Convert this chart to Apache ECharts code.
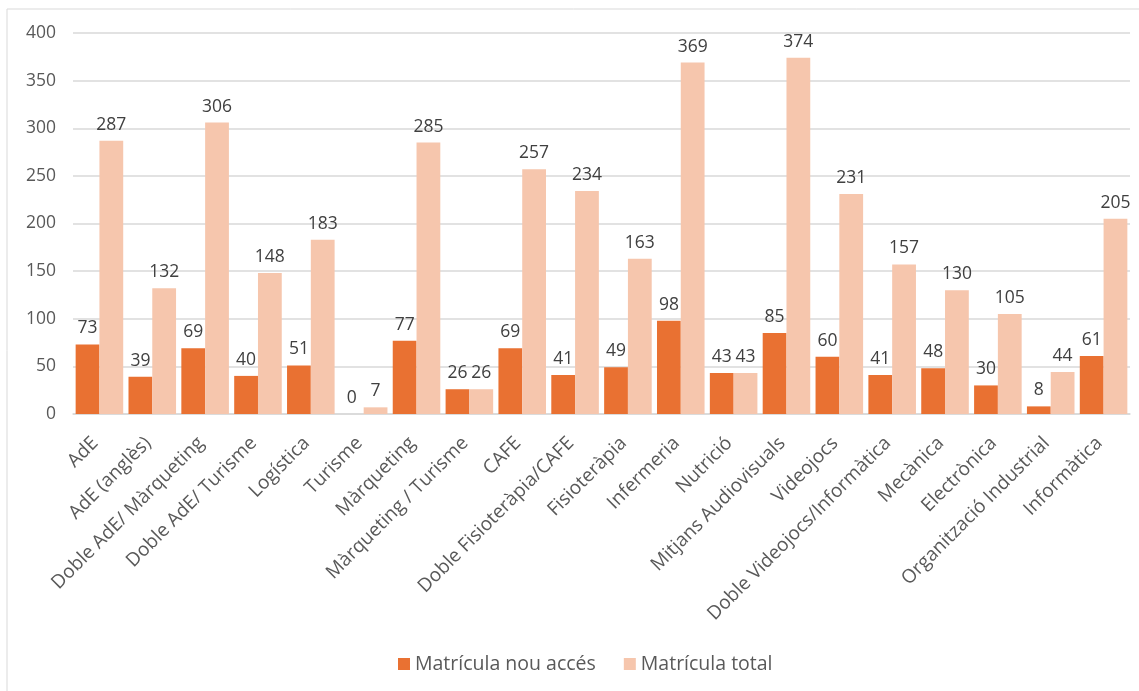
<!DOCTYPE html>
<html>
<head>
<meta charset="utf-8">
<script src="https://cdn.jsdelivr.net/npm/echarts@6/dist/echarts.min.js"></script>
<style>
html,body{margin:0;padding:0;background:#fff;}
#chart{width:1139px;height:691px;}
</style>
</head>
<body>
<div id="chart"></div>
<script>
const categories = ["AdE","AdE (anglès)","Doble AdE/ Màrqueting","Doble AdE/ Turisme","Logística","Turisme","Màrqueting","Màrqueting / Turisme","CAFE","Doble Fisioteràpia/CAFE","Fisioteràpia","Infermeria","Nutrició","Mitjans Audiovisuals","Videojocs","Doble Videojocs/Informàtica","Mecànica","Electrònica","Organització Industrial","Informàtica"];
const nouAcces = [73,39,69,40,51,0,77,26,69,41,49,98,43,85,60,41,48,30,8,61];
const total = [287,132,306,148,183,7,285,26,257,234,163,369,43,374,231,157,130,105,44,205];
const seriesNames = ["Matrícula nou accés","Matrícula total"];

const chart = echarts.init(document.getElementById('chart'), null, {renderer:'canvas'});
const font = "'Open Sans', 'Noto Sans', sans-serif";
const labelCfg = {show:true, position:'top', color:'#404040', fontSize:17.5, fontFamily:font, distance:7};
chart.setOption({
  animation:false,
  backgroundColor:'#fff',
  graphic:[{type:'rect', shape:{x:7, y:9, width:1200, height:800}, style:{fill:'none', stroke:'#d9d9d9', lineWidth:1}, silent:true}],
  grid:{left:73, right:9, top:33, bottom:277, containLabel:false},
  legend:{bottom:12, left:393, itemWidth:12, itemHeight:12, itemGap:28, icon:'rect',
    textStyle:{color:'#595959', fontSize:19.5, fontFamily:font}, data:seriesNames},
  xAxis:{type:'category', data:categories,
    axisLine:{lineStyle:{color:'#d9d9d9', width:1.5}}, axisTick:{show:false},
    axisLabel:{rotate:45, interval:0, color:'#595959', fontSize:19, fontFamily:font, margin:22, padding:[0,6,0,0]}},
  yAxis:{type:'value', min:0, max:400, interval:50,
    axisLine:{show:false}, axisTick:{show:false},
    splitLine:{lineStyle:{color:'#d9d9d9', width:1.5}},
    axisLabel:{color:'#595959', fontSize:17.5, fontFamily:font, margin:17}},
  series:[
    {name:seriesNames[0], type:'bar', data:nouAcces, itemStyle:{color:'#E97132'}, barGap:'0%', barCategoryGap:'10%', label:labelCfg},
    {name:seriesNames[1], type:'bar', data:total, itemStyle:{color:'#F6C6AD'}, label:labelCfg}
  ]
});
</script>
</body>
</html>
